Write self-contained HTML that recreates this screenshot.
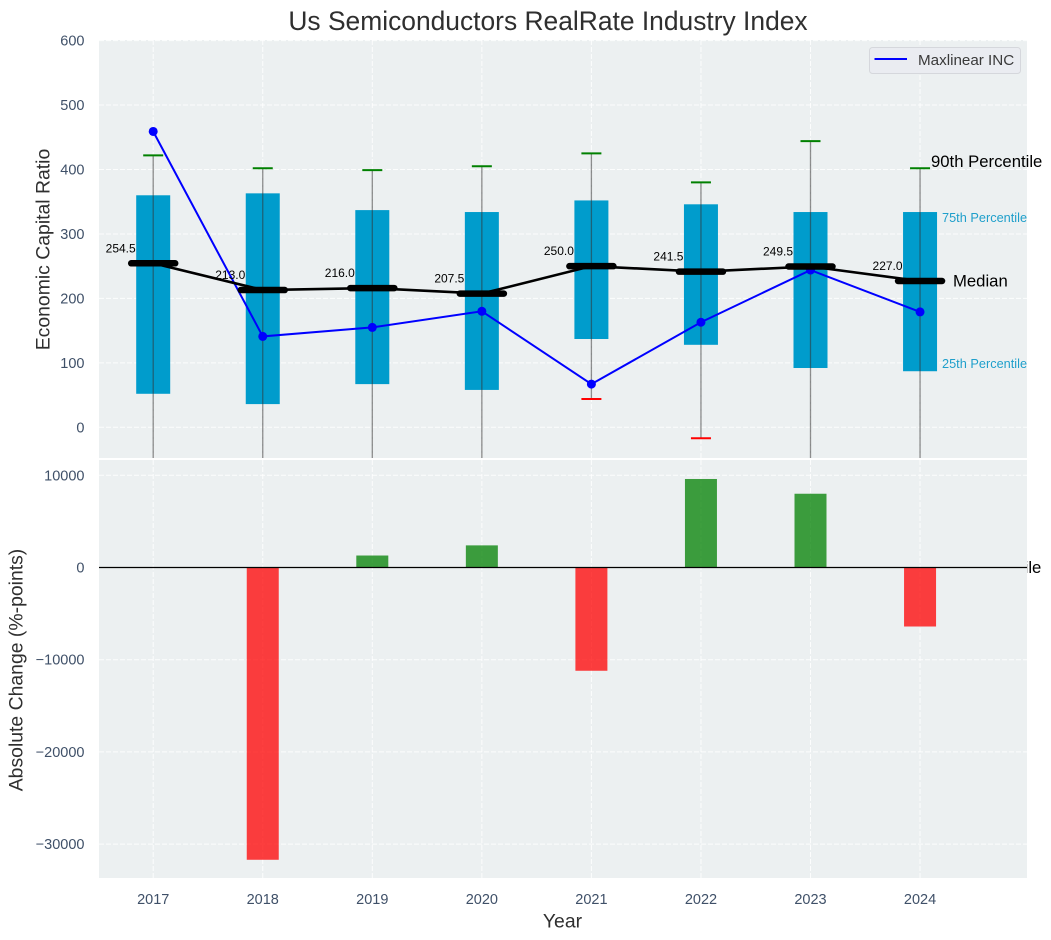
<!DOCTYPE html>
<html lang="en">
<head>
<meta charset="utf-8">
<title>Us Semiconductors RealRate Industry Index</title>
<style>
html,body{margin:0;padding:0;background:#fff;width:1051px;height:940px;overflow:hidden}
svg{display:block;font-family:"Liberation Sans",Arial,sans-serif}
</style>
</head>
<body>
<svg id="chart" xmlns="http://www.w3.org/2000/svg" width="1051" height="940" viewBox="0 0 1051 940">
<defs>
<clipPath id="clip-top"><rect x="99" y="40" width="928" height="418"/></clipPath>
<clipPath id="clip-bottom"><rect x="99" y="460" width="928" height="418"/></clipPath>
</defs>
</svg>
<script>
const years = [2017, 2018, 2019, 2020, 2021, 2022, 2023, 2024];
const p90 = [422, 402, 399, 405, 425, 380, 444, 402];
const p75 = [360, 363, 337, 334, 352, 346, 334, 334];
const medians = [254.5, 213.0, 216.0, 207.5, 250.0, 241.5, 249.5, 227.0];
const p25 = [52, 36, 67, 58, 137, 128, 92, 87];
const p10 = [-70, -90, -60, -75, 44, -17, -65, -80];
const companyValues = [459, 141, 155, 180, 67, 163, 244, 179];
const absoluteChange = [0, -31700, 1300, 2400, -11200, 9600, 8000, -6400];
const topTicks = [0, 100, 200, 300, 400, 500, 600];
const bottomTicks = [-30000, -20000, -10000, 0, 10000];

const svg = document.getElementById('chart');
const NS = 'http://www.w3.org/2000/svg';
const topBox = {l: 99, r: 1027, t: 40, b: 458};
const botBox = {l: 99, r: 1027, t: 460, b: 878};
const xS = y => 153.2 + (y - 2017) * 109.55;
const yTop = v => 427.3 - v * 0.6445;
const yBot = v => 567.5 - v * 0.00922;
const GRID_DASH = '5 2';

function make(tag, attrs, parent) {
  const el = document.createElementNS(NS, tag);
  for (const k in attrs) el.setAttribute(k, attrs[k]);
  (parent || svg).appendChild(el);
  return el;
}
function label(str, attrs, parent) {
  const el = make('text', attrs, parent);
  el.textContent = str;
  return el;
}
function fmt(v) {
  return String(v).replace('-', '\u2212');
}

/* title */
const title = label('Us Semiconductors RealRate Industry Index', {x: 548, y: 30, 'text-anchor': 'middle', 'font-size': 26.4, fill: '#2f2f2f'});



/* top axes */
const topBg = make('rect', {x: topBox.l, y: topBox.t, width: topBox.r - topBox.l, height: topBox.b - topBox.t, fill: '#ecf0f1'});



const topGroup = make('g', {'clip-path': 'url(#clip-top)'});



topTicks.forEach(t => {
  const g = make('line', {x1: topBox.l, x2: topBox.r, y1: yTop(t), y2: yTop(t), stroke: '#fff', 'stroke-width': 1, 'stroke-dasharray': GRID_DASH, 'stroke-opacity': 0.85}, topGroup);
  
  
  const tl = label(fmt(t), {x: 84.5, y: yTop(t) + 5, 'text-anchor': 'end', 'font-size': 14.5, fill: '#3f5068'});
  
  
});
years.forEach(y => {
  const g = make('line', {x1: xS(y), x2: xS(y), y1: topBox.t, y2: topBox.b, stroke: '#fff', 'stroke-width': 1, 'stroke-dasharray': GRID_DASH, 'stroke-opacity': 0.85}, topGroup);
  
  
});

years.forEach((y, i) => {
  const box = make('rect', {x: xS(y) - 17, width: 34, y: yTop(p75[i]), height: yTop(p25[i]) - yTop(p75[i]), fill: '#009ccc'}, topGroup);
  
  
  const whisk = make('line', {x1: xS(y), x2: xS(y), y1: yTop(p90[i]), y2: yTop(p10[i]), stroke: '#333', 'stroke-width': 1.3, 'stroke-opacity': 0.55}, topGroup);
  
  
  const capHi = make('line', {x1: xS(y) - 10, x2: xS(y) + 10, y1: yTop(p90[i]), y2: yTop(p90[i]), stroke: '#008000', 'stroke-width': 2}, topGroup);
  
  
  const capLo = make('line', {x1: xS(y) - 10, x2: xS(y) + 10, y1: yTop(p10[i]), y2: yTop(p10[i]), stroke: '#ff0000', 'stroke-width': 2}, topGroup);
  
  
});

/* company series */
const companyLine = make('polyline', {points: years.map((y, i) => xS(y) + ',' + yTop(companyValues[i])).join(' '), fill: 'none', stroke: '#0000ff', 'stroke-width': 2}, topGroup);


years.forEach((y, i) => {
  const dot = make('circle', {cx: xS(y), cy: yTop(companyValues[i]), r: 4.5, fill: '#0000ff'}, topGroup);
  
  
});

/* median series */
const medianLine = make('polyline', {points: years.map((y, i) => xS(y) + ',' + yTop(medians[i])).join(' '), fill: 'none', stroke: '#000', 'stroke-width': 2.6}, topGroup);


years.forEach((y, i) => {
  const m = make('line', {x1: xS(y) - 22, x2: xS(y) + 22, y1: yTop(medians[i]), y2: yTop(medians[i]), stroke: '#000', 'stroke-width': 6.5, 'stroke-linecap': 'round'}, topGroup);
  
  
  const t = label(medians[i].toFixed(1), {x: xS(y) - 17.5, y: yTop(medians[i]) - 11, 'text-anchor': 'end', 'font-size': 12, fill: '#000'});
  
  
});

/* annotations for the last year */
const last = years.length - 1;
const a90 = label('90th Percentile', {x: 931, y: yTop(p90[last]) - 1, 'font-size': 16.7, fill: '#000'});


const a75 = label('75th Percentile', {x: 942, y: yTop(p75[last]) + 10, 'font-size': 12.75, fill: '#1f9fcb'});


const aMed = label('Median', {x: 953, y: yTop(medians[last]) + 5.5, 'font-size': 16.7, fill: '#000'});


const a25 = label('25th Percentile', {x: 942, y: yTop(p25[last]) - 3, 'font-size': 12.75, fill: '#1f9fcb'});


const a10 = label('10th Percentile', {x: 930, y: 573, 'font-size': 16.7, fill: '#000'});



/* legend */
const legend = make('g', {});


const legBox = make('rect', {x: 869.5, y: 47.5, width: 151, height: 26, rx: 3, fill: '#eaecf1', stroke: '#d5d7dc', 'stroke-width': 1}, legend);


const legLine = make('line', {x1: 874.5, x2: 907, y1: 59, y2: 59, stroke: '#0000ff', 'stroke-width': 2}, legend);


const legText = label('Maxlinear INC', {x: 918, y: 65, 'font-size': 15.2, fill: '#3a3a3a'}, legend);



/* bottom axes */
const botBg = make('rect', {x: botBox.l, y: botBox.t, width: botBox.r - botBox.l, height: botBox.b - botBox.t, fill: '#ecf0f1'});



const botGroup = make('g', {'clip-path': 'url(#clip-bottom)'});



bottomTicks.forEach(t => {
  const g = make('line', {x1: botBox.l, x2: botBox.r, y1: yBot(t), y2: yBot(t), stroke: '#fff', 'stroke-width': 1, 'stroke-dasharray': GRID_DASH, 'stroke-opacity': 0.85}, botGroup);
  
  
  const tl = label(fmt(t), {x: 84.5, y: yBot(t) + 5, 'text-anchor': 'end', 'font-size': 14.5, fill: '#3f5068'});
  
  
});
years.forEach(y => {
  const g = make('line', {x1: xS(y), x2: xS(y), y1: botBox.t, y2: botBox.b, stroke: '#fff', 'stroke-width': 1, 'stroke-dasharray': GRID_DASH, 'stroke-opacity': 0.85}, botGroup);
  
  
  const tl = label(String(y), {x: xS(y), y: 904, 'text-anchor': 'middle', 'font-size': 14.5, fill: '#3f5068'});
  
  
});
years.forEach((y, i) => {
  const v = absoluteChange[i];
  const bar = make('rect', {x: xS(y) - 16, width: 32, y: Math.min(yBot(v), yBot(0)), height: Math.abs(yBot(v) - yBot(0)), fill: v >= 0 ? '#008000' : '#ff0000', 'fill-opacity': 0.75}, botGroup);
  
  
});
const zero = make('line', {x1: botBox.l, x2: botBox.r, y1: yBot(0), y2: yBot(0), stroke: '#000', 'stroke-width': 1.2}, botGroup);



/* axis titles */
const yt1 = label('Economic Capital Ratio', {transform: 'translate(49.5,249.5) rotate(-90)', 'text-anchor': 'middle', 'font-size': 19.4, fill: '#2f2f2f'});


const yt2 = label('Absolute Change (%-points)', {transform: 'translate(22.5,670) rotate(-90)', 'text-anchor': 'middle', 'font-size': 19.4, fill: '#2f2f2f'});


const xt = label('Year', {x: 562.5, y: 927.5, 'text-anchor': 'middle', 'font-size': 19.4, fill: '#2f2f2f'});


</script>
</body>
</html>
